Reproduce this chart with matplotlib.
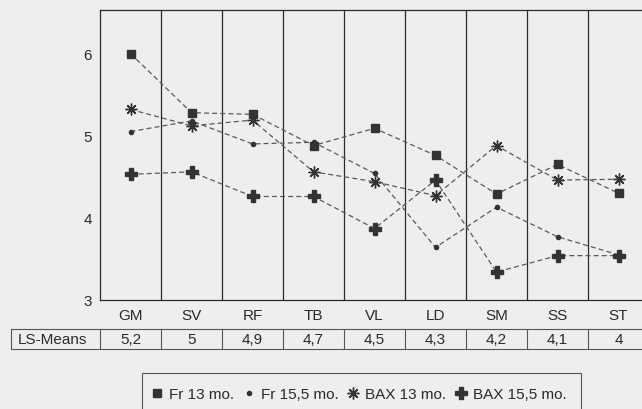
import matplotlib
matplotlib.use("Agg")
import matplotlib.pyplot as plt
from matplotlib.lines import Line2D
from matplotlib.patches import Rectangle

plt.rcParams['font.family'] = ['Liberation Sans', 'DejaVu Sans']

categories = ["GM", "SV", "RF", "TB", "VL", "LD", "SM", "SS", "ST"]
ls_means = [5.2, 5.0, 4.9, 4.7, 4.5, 4.3, 4.2, 4.1, 4.0]
fr_13 = [6.00, 5.28, 5.26, 4.88, 5.09, 4.76, 4.29, 4.65, 4.30]
fr_155 = [5.05, 5.18, 4.90, 4.92, 4.54, 3.64, 4.13, 3.77, 3.55]
bax_13 = [5.32, 5.12, 5.19, 4.56, 4.44, 4.27, 4.88, 4.46, 4.47]
bax_155 = [4.53, 4.56, 4.26, 4.26, 3.87, 4.46, 3.34, 3.54, 3.54]
series_labels = ["Fr 13 mo.", "Fr 15,5 mo.", "BAX 13 mo.", "BAX 15,5 mo."]
yticks = [3, 4, 5, 6]

W, H = 642, 410
bg = '#eeeeec'
ink = '#2a2a2a'
dash_col = '#5a5a5a'

fig = plt.figure(figsize=(W / 100, H / 100), dpi=100, facecolor=bg)

# main axes: x from 100 to 649 px, y from 11 to 301 px
ax = fig.add_axes([100 / W, 1 - 301 / H, (649 - 100) / W, (301 - 11) / H], facecolor=bg)
n = len(categories)
xs = [i + 0.5 for i in range(n)]
ax.set_xlim(0, n)
ax.set_ylim(3, 6.53)

for i in range(1, n):
    ax.axvline(i, color=ink, lw=0.9, zorder=1)

styles = [
    dict(marker='s', ms=5.8, mfc='#333333', mec='#333333'),
    dict(marker='o', ms=3.0, mfc='#333333', mec='#333333'),
    dict(marker=(8, 2, 0), ms=8.5, mfc='none', mec='#333333', mew=1.0),
    dict(marker='P', ms=8.0, mfc='#333333', mec='#333333'),
]
handles = []
for vals, st, lab in zip([fr_13, fr_155, bax_13, bax_155], styles, series_labels):
    ax.plot(xs, vals, ls=(0, (4, 2.5)), color=dash_col, lw=0.9, zorder=3, **st)
    handles.append(Line2D([], [], ls='none', label=lab, **st))

ax.set_yticks(yticks)
ax.set_yticklabels([str(v) for v in yticks], fontsize=11, color=ink)
ax.set_xticks(xs)
ax.set_xticklabels(categories, fontsize=11, color=ink)
ax.tick_params(axis='y', length=0, pad=6)
ax.tick_params(axis='x', length=0, pad=6)
for s in ax.spines.values():
    s.set_color(ink)
    s.set_linewidth(0.9)

# table row: x from 11 to 649 px, y from 330 to 350 px
left_units = (100 - 11) / 61.0
tax = fig.add_axes([11 / W, 1 - 350 / H, (649 - 11) / W, 20 / H], facecolor='none')
tax.set_xlim(-left_units, n)
tax.set_ylim(0, 1)
tax.set_xticks([])
tax.set_yticks([])
for s in tax.spines.values():
    s.set_color('#555555')
    s.set_linewidth(0.8)
for i in range(0, n):
    tax.axvline(i, color='#555555', lw=0.8)
tax.text(-left_units / 2 - 0.05, 0.5, "LS-Means", ha='center', va='center', fontsize=11, color=ink)
for x, v in zip(xs, ls_means):
    tax.text(x, 0.5, f"{v:g}".replace('.', ','), ha='center', va='center', fontsize=11, color=ink)

# legend box (runs past the bottom edge, as in the reference)
fig.add_artist(Rectangle((142 / W, 1 - 420 / H), (581 - 142) / W, (420 - 374) / H,
                         transform=fig.transFigure, facecolor='none', edgecolor='#555555', lw=0.8))
leg = fig.legend(handles=handles, loc='center left', bbox_to_anchor=(151 / W, 1 - 395 / H),
                 ncol=4, frameon=False, fontsize=11, handlelength=0.8, handletextpad=0.4,
                 columnspacing=0.55, borderpad=0, borderaxespad=0)
for t in leg.get_texts():
    t.set_color(ink)

fig.savefig("out.png", dpi=100, facecolor=bg)
